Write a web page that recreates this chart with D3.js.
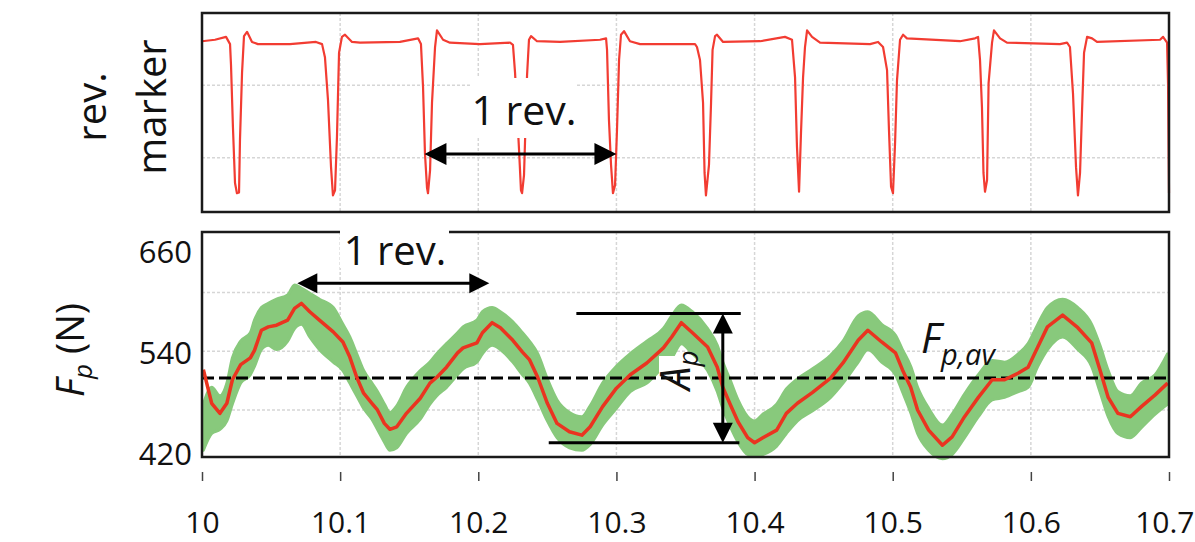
<!DOCTYPE html>
<html><head><meta charset="utf-8">
<script src="https://cdn.jsdelivr.net/npm/d3@7"></script>
<style>html,body{margin:0;padding:0;background:#fff;} svg{display:block;}</style>
</head><body><svg id="c" width="1195" height="542"></svg>
<script>
// ---------- data ----------
const xTicks = [10, 10.1, 10.2, 10.3, 10.4, 10.5, 10.6, 10.7];
const xTickLabels = ["10", "10.1", "10.2", "10.3", "10.4", "10.5", "10.6", "10.7"];
const forceTicks = [420, 540, 660];
const forceGrid = [473, 543, 613];
const markerGrid = [0, 1];

const markerT = [10.0000,10.0094,10.0174,10.0203,10.0210,10.0224,10.0239,10.0253,10.0268,10.0275,10.0290,10.0304,10.0326,10.0362,10.0405,10.0637,10.0825,10.0869,
 10.0890,10.0912,10.0934,10.0948,10.0963,10.0977,10.0992,10.1013,10.1035,10.1086,10.1144,10.1433,10.1564,
 10.1585,10.1600,10.1614,10.1629,10.1636,10.1651,10.1665,10.1687,10.1701,10.1745,10.1795,10.2012,10.2230,
 10.2251,10.2266,10.2295,10.2309,10.2317,10.2331,10.2353,10.2367,10.2382,10.2425,10.2592,10.2881,10.2925,
 10.2932,10.2946,10.2961,10.2975,10.2990,10.3004,10.3019,10.3033,10.3055,10.3098,10.3171,10.3460,
 10.3569,10.3583,10.3605,10.3627,10.3638,10.3648,10.3670,10.3685,10.3696,10.3714,10.3728,10.3772,10.4039,10.4220,
 10.4271,10.4293,10.4307,10.4322,10.4336,10.4351,10.4365,10.4380,10.4416,10.4474,10.4836,10.4894,
 10.4930,10.4959,10.4973,10.4988,10.5002,10.5017,10.5031,10.5053,10.5075,10.5103,10.5487,10.5596,
 10.5618,10.5632,10.5646,10.5657,10.5668,10.5683,10.5694,10.5719,10.5733,10.5777,10.5827,10.6211,10.6262,
 10.6283,10.6305,10.6327,10.6341,10.6356,10.6370,10.6385,10.6407,10.6443,10.6479,10.6935,10.6957,10.6986,10.6993,10.7000];
const markerV = [1.61,1.63,1.67,1.57,1.28,0.42,-0.35,-0.49,-0.48,0.25,1.18,1.68,1.74,1.60,1.57,1.57,1.60,1.57,
 1.39,0.80,-0.13,-0.52,-0.45,0.29,1.45,1.67,1.70,1.60,1.59,1.60,1.65,
 1.57,0.98,0.06,-0.42,-0.49,-0.17,0.76,1.53,1.76,1.63,1.59,1.57,1.59,
 1.56,1.18,0.11,-0.45,-0.49,-0.24,1.14,1.63,1.68,1.61,1.60,1.63,1.65,
 1.49,0.52,-0.10,-0.49,-0.38,0.38,1.35,1.70,1.75,1.61,1.57,1.57,
 1.57,1.53,1.35,0.76,-0.21,-0.52,-0.10,0.76,1.49,1.68,1.70,1.60,1.61,1.67,
 1.63,1.11,0.15,-0.47,0.34,1.11,1.53,1.76,1.67,1.59,1.57,1.60,
 1.53,1.21,0.38,-0.40,-0.49,0.20,1.07,1.63,1.70,1.65,1.61,1.65,
 1.67,1.35,0.70,-0.21,-0.47,-0.31,1.03,1.59,1.76,1.65,1.59,1.57,1.59,
 1.53,0.89,-0.13,-0.52,-0.21,0.62,1.45,1.67,1.65,1.60,1.63,1.67,1.59,1.03,-0.49];

const forceT = [10.001,10.007,10.013,10.018,10.022,10.028,10.035,10.038,10.043,10.048,
 10.054,10.062,10.067,10.072,10.078,10.085,10.095,10.102,10.107,10.112,
 10.117,10.123,10.127,10.132,10.136,10.141,10.148,10.158,10.165,10.170,
 10.177,10.185,10.189,10.199,10.203,10.210,10.216,10.225,10.232,10.237,
 10.243,10.250,10.257,10.266,10.275,10.281,10.290,10.300,10.310,10.322,
 10.334,10.340,10.347,10.355,10.366,10.373,10.377,10.382,10.388,10.395,
 10.400,10.406,10.416,10.423,10.431,10.442,10.455,10.464,10.475,10.482,
 10.492,10.502,10.507,10.513,10.518,10.526,10.536,10.543,10.552,10.562,
 10.572,10.581,10.591,10.598,10.605,10.612,10.623,10.634,10.644,10.650,
 10.656,10.663,10.672,10.680,10.690,10.699];
const forceFiltered = [521,481,469,481,509,527,535,544,568,572,
 574,580,594,600,590,580,566,554,536,512,
 493,481,473,457,450,453,469,487,505,512,
 524,541,547,553,565,577,571,556,542,533,
 512,481,457,447,443,453,477,499,515,529,
 547,560,577,565,548,524,500,481,459,440,
 434,440,449,469,481,494,511,529,556,568,
 554,541,521,500,473,449,431,441,465,488,
 509,509,517,524,548,572,586,571,553,521,
 488,469,465,477,491,505];
const forceRawHi = [480,500,490,505,535,555,565,580,595,600,
 605,610,622,618,612,605,595,575,560,540,
 520,505,495,480,470,478,500,520,530,540,
 552,565,572,580,590,595,590,578,565,555,
 540,510,485,470,465,478,505,525,540,555,
 570,585,598,590,570,550,530,510,485,465,
 460,468,480,498,510,522,538,555,585,590,
 575,562,545,525,500,475,455,468,492,515,
 532,530,540,552,575,595,605,595,575,550,
 520,495,490,505,515,540];
const forceRawLo = [425,445,450,460,480,505,515,525,545,550,
 545,555,570,575,560,545,530,520,505,490,
 475,462,450,435,425,428,445,462,480,490,
 500,515,522,530,540,550,545,530,515,505,
 485,460,440,428,425,432,455,475,495,505,
 525,535,552,540,520,495,475,455,435,420,
 418,420,430,445,460,472,488,505,530,545,
 530,515,495,470,445,425,415,420,440,465,
 485,488,495,500,525,545,560,545,525,495,
 465,445,440,452,468,480];
const forceAvg = 511;
const revSpanMarker = [10.161, 10.300];
const revMarkerLevel = 0.05;
const revSpanForce = [10.069, 10.208];
const revForceLevel = 624;
const ampPeak = 588, ampTrough = 434, ampTime = 10.377;
const ampPeakLine = [10.271, 10.390];
const ampTroughLine = [10.251, 10.389];

// ---------- scales ----------
const svg = d3.select("#c");
svg.append("rect").attr("width",1195).attr("height",542).attr("fill","#fff");
const x = d3.scaleLinear().domain([10, 10.7]).range([202, 1169]);
const yM = d3.scaleLinear().domain([-0.75, 2]).range([212, 13]);
const yF = d3.scaleLinear().domain([417, 685]).range([457, 232]);
const FONT = "'Open Sans', 'Liberation Sans', sans-serif";
const gridCol = "#d6d6d6";

function panelGrid(yScale, yVals, y0, y1) {
  const g = svg.append("g");
  g.selectAll("line.v").data(xTicks.slice(1, -1)).join("line")
    .attr("x1", d => x(d)).attr("x2", d => x(d)).attr("y1", y0).attr("y2", y1)
    .attr("stroke", gridCol).attr("stroke-width", 1.5).attr("stroke-dasharray", "3,2");
  g.selectAll("line.h").data(yVals).join("line")
    .attr("x1", x(10)).attr("x2", x(10.7)).attr("y1", d => yScale(d)).attr("y2", d => yScale(d))
    .attr("stroke", gridCol).attr("stroke-width", 1.5).attr("stroke-dasharray", "3,2");
}
panelGrid(yM, markerGrid, yM.range()[1], yM.range()[0]);
panelGrid(yF, forceGrid, yF.range()[1], yF.range()[0]);

// ---------- top panel: marker ----------
const mData = markerT.map((t, i) => ({t, v: markerV[i]}));
svg.append("path").datum(mData)
  .attr("d", d3.line().x(d => x(d.t)).y(d => yM(d.v)))
  .attr("fill", "none").attr("stroke", "#f23c32").attr("stroke-width", 2.2).attr("stroke-linejoin", "round");

function doubleArrow(x1, y1, x2, y2, len, half) {
  const g = svg.append("g");
  const horiz = y1 === y2;
  if (horiz) {
    g.append("line").attr("x1", x1 + len - 2).attr("x2", x2 - len + 2).attr("y1", y1).attr("y2", y2)
      .attr("stroke", "#000").attr("stroke-width", 3);
    g.append("path").attr("d", `M${x1},${y1}L${x1+len},${y1-half}L${x1+len},${y1+half}Z`).attr("fill", "#000");
    g.append("path").attr("d", `M${x2},${y2}L${x2-len},${y2-half}L${x2-len},${y2+half}Z`).attr("fill", "#000");
  } else {
    g.append("line").attr("x1", x1).attr("x2", x2).attr("y1", y1 + len - 2).attr("y2", y2 - len + 2)
      .attr("stroke", "#000").attr("stroke-width", 3);
    g.append("path").attr("d", `M${x1},${y1}L${x1-half},${y1+len}L${x1+half},${y1+len}Z`).attr("fill", "#000");
    g.append("path").attr("d", `M${x2},${y2}L${x2-half},${y2-len}L${x2+half},${y2-len}Z`).attr("fill", "#000");
  }
}

// label "1 rev." (top) with white background
svg.append("rect").attr("x", 470).attr("y", 78).attr("width", 106).attr("height", 60).attr("fill", "#fff");
svg.append("text").attr("x", 524).attr("y", 125).attr("text-anchor", "middle")
  .attr("font-family", FONT).attr("font-size", 41).attr("fill", "#111").text("1 rev.");
doubleArrow(x(revSpanMarker[0]), yM(revMarkerLevel), x(revSpanMarker[1]), yM(revMarkerLevel), 22, 11);

// top frame
svg.append("rect").attr("x", 202).attr("y", 13).attr("width", 967).attr("height", 199)
  .attr("fill", "none").attr("stroke", "#1a1a1a").attr("stroke-width", 2.5);

// ---------- bottom panel: force ----------
const fData = forceT.map((t, i) => ({t, v: forceFiltered[i], hi: forceRawHi[i], lo: forceRawLo[i]}));
svg.append("path").datum(fData)
  .attr("d", d3.area().x(d => x(d.t)).y0(d => yF(d.lo)).y1(d => yF(d.hi)).curve(d3.curveMonotoneX))
  .attr("fill", "#88c97c").attr("stroke", "#88c97c").attr("stroke-width", 3).attr("stroke-linejoin", "round");

// A_p background
svg.append("rect").attr("x", 659).attr("y", 356).attr("width", 32).attr("height", 36).attr("fill", "#fff");

// average dashed line
svg.append("line").attr("x1", x(10)).attr("x2", x(10.7)).attr("y1", yF(forceAvg)).attr("y2", yF(forceAvg))
  .attr("stroke", "#000").attr("stroke-width", 3).attr("stroke-dasharray", "12,5");

svg.append("path").datum(fData)
  .attr("d", d3.line().x(d => x(d.t)).y(d => yF(d.v)))
  .attr("fill", "none").attr("stroke", "#ea3420").attr("stroke-width", 3.5).attr("stroke-linejoin", "round");

// amplitude annotation
svg.append("line").attr("x1", x(ampPeakLine[0])).attr("x2", x(ampPeakLine[1])).attr("y1", yF(ampPeak)).attr("y2", yF(ampPeak))
  .attr("stroke", "#000").attr("stroke-width", 3);
svg.append("line").attr("x1", x(ampTroughLine[0])).attr("x2", x(ampTroughLine[1])).attr("y1", yF(ampTrough)).attr("y2", yF(ampTrough))
  .attr("stroke", "#000").attr("stroke-width", 3);
doubleArrow(x(ampTime), yF(ampPeak), x(ampTime), yF(ampTrough), 20, 10);

const ap = svg.append("text").attr("transform", "translate(690,390) rotate(-90)")
  .attr("font-family", FONT).attr("font-style", "italic").attr("fill", "#111");
ap.append("tspan").attr("font-size", 42).text("A");
ap.append("tspan").attr("font-size", 28).attr("dy", 8).text("p");

// F_p,av
const fav = svg.append("text").attr("x", 921).attr("y", 353)
  .attr("font-family", FONT).attr("font-style", "italic").attr("fill", "#111");
fav.append("tspan").attr("font-size", 42).text("F");
fav.append("tspan").attr("font-size", 29).attr("dy", 12).text("p,av");

// bottom frame
svg.append("rect").attr("x", 202).attr("y", 232).attr("width", 967).attr("height", 225)
  .attr("fill", "none").attr("stroke", "#1a1a1a").attr("stroke-width", 2.5);
// "1 rev." (bottom) with white background + arrow
svg.append("rect").attr("x", 340).attr("y", 226).attr("width", 109).attr("height", 42).attr("fill", "#fff");
svg.append("text").attr("x", 395).attr("y", 265).attr("text-anchor", "middle")
  .attr("font-family", FONT).attr("font-size", 40).attr("fill", "#111").text("1 rev.");
doubleArrow(x(revSpanForce[0]), yF(revForceLevel), x(revSpanForce[1]), yF(revForceLevel), 20, 10);

// ---------- axes ----------
const xAxis = svg.append("g").attr("transform", "translate(0,472)")
  .call(d3.axisBottom(x).tickValues(xTicks).tickFormat((d, i) => xTickLabels[i]).tickSize(9).tickPadding(31));
xAxis.select(".domain").remove();
xAxis.selectAll("line").attr("stroke", "#444").attr("stroke-width", 1.5);
xAxis.selectAll("text").attr("font-family", FONT).attr("font-size", 30).attr("fill", "#111");
// keep the last label inside the page
xAxis.selectAll("text").filter(d => d === 10.7).attr("text-anchor", "end").attr("x", 25);

const yAxis = svg.append("g").attr("transform", "translate(202,0)")
  .call(d3.axisLeft(yF).tickValues(forceTicks).tickSize(0).tickPadding(10));
yAxis.select(".domain").remove();
yAxis.selectAll("text").attr("font-family", FONT).attr("font-size", 31).attr("fill", "#111");

// axis titles
const yt = svg.append("text").attr("transform", "translate(84,350) rotate(-90)").attr("text-anchor", "middle")
  .attr("font-family", FONT).attr("fill", "#111");
yt.append("tspan").attr("font-size", 38).attr("font-style", "italic").text("F");
yt.append("tspan").attr("font-size", 26).attr("font-style", "italic").attr("dy", 8).text("p");
yt.append("tspan").attr("font-size", 38).attr("dy", -8).text(" (N)");

svg.append("text").attr("transform", "translate(106,107) rotate(-90)").attr("text-anchor", "middle")
  .attr("font-family", FONT).attr("font-size", 40).attr("fill", "#111").text("rev.");
svg.append("text").attr("transform", "translate(166,107) rotate(-90)").attr("text-anchor", "middle")
  .attr("font-family", FONT).attr("font-size", 40).attr("fill", "#111").text("marker");
</script></body></html>
